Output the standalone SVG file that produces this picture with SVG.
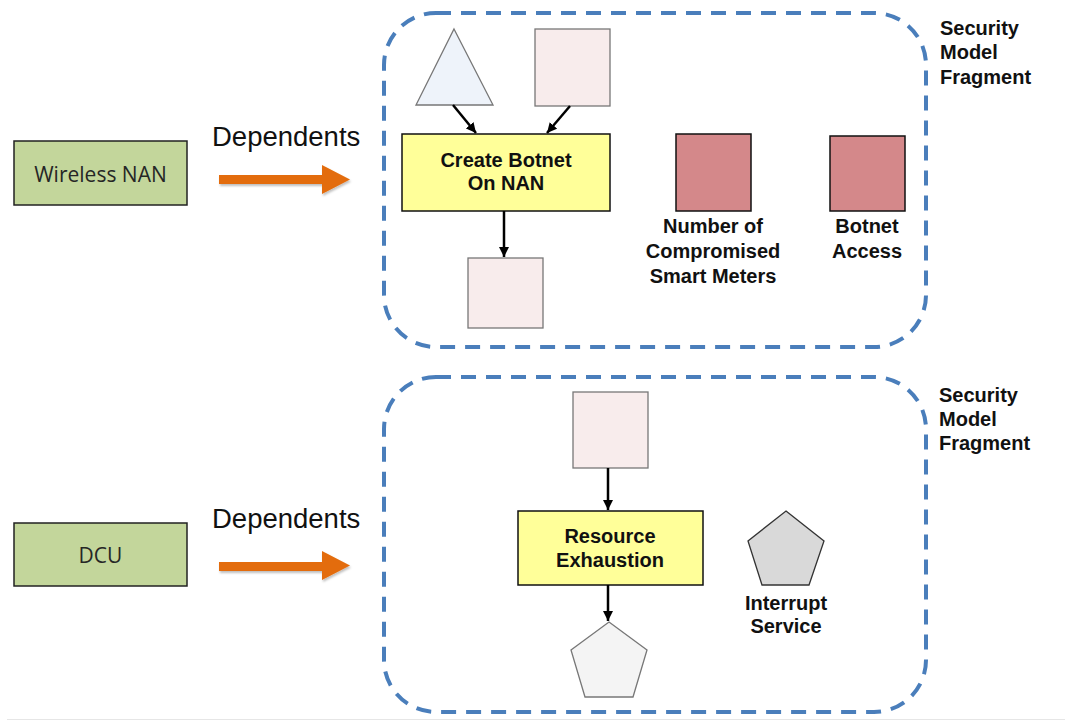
<svg xmlns="http://www.w3.org/2000/svg" width="1065" height="721" viewBox="0 0 1065 721">
  <defs>
    <marker id="arrow" viewBox="0 0 10 10" refX="10" refY="5" markerWidth="4" markerHeight="4" orient="auto" markerUnits="strokeWidth">
      <path d="M0,0 L10,5 L0,10 z" fill="#000"/>
    </marker>
    <filter id="soft" x="-10%" y="-30%" width="130%" height="170%">
      <feDropShadow dx="1" dy="2" stdDeviation="1.2" flood-color="#000" flood-opacity="0.25"/>
    </filter>
    <style>
      .frame { fill: none; stroke: #4a7ebb; stroke-width: 4; stroke-dasharray: 15 10; }
      .asset { fill: #c3d69b; stroke: #222; stroke-width: 1.5; }
      .asset-text { font-family: "Open Sans", "Liberation Sans", sans-serif; font-size: 21px; fill: #262626; text-anchor: middle; }
      .dep-text { font-family: "Liberation Sans", Arial, sans-serif; font-size: 27.5px; fill: #111; }
      .dep-arrow { fill: #e36c0a; filter: url(#soft); }
      .step { fill: #ffff99; stroke: #111; stroke-width: 1.5; }
      .pale { fill: #f8ecec; stroke: #777; stroke-width: 1.3; }
      .tri { fill: #eef3fa; stroke: #777; stroke-width: 1.3; }
      .red { fill: #d4888a; stroke: #111; stroke-width: 1.5; }
      .pent-light { fill: #f4f4f4; stroke: #777; stroke-width: 1.3; }
      .pent-grey { fill: #d9d9d9; stroke: #333; stroke-width: 1.3; }
      .lbl { font-family: "Liberation Sans", Arial, sans-serif; font-size: 20px; font-weight: bold; fill: #111; text-anchor: middle; }
      .frag { font-family: "Liberation Sans", Arial, sans-serif; font-size: 20px; font-weight: bold; fill: #111; }
      .link { stroke: #000; stroke-width: 2.5; fill: none; marker-end: url(#arrow); }
    </style>
  </defs>

  <rect width="1065" height="721" fill="#fff"/>
  <line x1="7" y1="719.5" x2="1065" y2="719.5" stroke="#e6e6e6" stroke-width="1"/>

  <!-- upper row: Wireless NAN -->
  <g id="wireless-nan">
    <rect class="asset" x="14" y="141" width="173" height="64"/>
    <text class="asset-text" x="100.5" y="182">Wireless NAN</text>
  </g>
  <g id="dependents-top">
    <text class="dep-text" x="212" y="146">Dependents</text>
    <path class="dep-arrow" d="M219,175 L322,175 L322,165 L350,179.5 L322,194 L322,184 L219,184 z"/>
  </g>

  <g id="fragment-top">
    <rect class="frame" x="384" y="13" width="542" height="334" rx="52" ry="52"/>
    <text class="frag"><tspan x="940" y="35">Security</tspan><tspan x="940" y="59">Model</tspan><tspan x="940" y="84">Fragment</tspan></text>
  </g>

  <g id="triangle-input">
    <polygon class="tri" points="454,29 493,105 416,105"/>
  </g>
  <g id="square-input">
    <rect class="pale" x="535" y="29" width="75" height="77"/>
  </g>
  <g id="create-botnet">
    <rect class="step" x="402" y="134" width="208" height="77"/>
    <text class="lbl"><tspan x="506" y="167">Create Botnet</tspan><tspan x="506" y="190">On NAN</tspan></text>
  </g>
  <g id="square-output">
    <rect class="pale" x="468" y="258" width="75" height="70"/>
  </g>
  <g id="compromised-meters">
    <rect class="red" x="676" y="134" width="75" height="77"/>
    <text class="lbl"><tspan x="713" y="233">Number of</tspan><tspan x="713" y="258">Compromised</tspan><tspan x="713" y="283">Smart Meters</tspan></text>
  </g>
  <g id="botnet-access">
    <rect class="red" x="830" y="136" width="75" height="75"/>
    <text class="lbl"><tspan x="867" y="233">Botnet</tspan><tspan x="867" y="258">Access</tspan></text>
  </g>

  <!-- lower row: DCU -->
  <g id="dcu">
    <rect class="asset" x="14" y="523" width="173" height="63"/>
    <text class="asset-text" x="100.5" y="563">DCU</text>
  </g>
  <g id="dependents-bottom">
    <text class="dep-text" x="212" y="528">Dependents</text>
    <path class="dep-arrow" d="M219,562 L322,562 L322,551 L350,565.5 L322,580 L322,571 L219,571 z"/>
  </g>

  <g id="fragment-bottom">
    <rect class="frame" x="384" y="377" width="542" height="335" rx="52" ry="52"/>
    <text class="frag"><tspan x="939" y="402">Security</tspan><tspan x="939" y="426">Model</tspan><tspan x="939" y="450">Fragment</tspan></text>
  </g>

  <g id="square-cause">
    <rect class="pale" x="573" y="392" width="75" height="76"/>
  </g>
  <g id="resource-exhaustion">
    <rect class="step" x="518" y="511" width="185" height="74"/>
    <text class="lbl"><tspan x="610" y="543">Resource</tspan><tspan x="610" y="567">Exhaustion</tspan></text>
  </g>
  <g id="pentagon-effect">
    <polygon class="pent-light" points="609,622 647,650 633,697 585,697 571,650"/>
  </g>
  <g id="interrupt-service">
    <polygon class="pent-grey" points="786,511 824,541 809,585 762,585 748,541"/>
    <text class="lbl"><tspan x="786" y="610">Interrupt</tspan><tspan x="786" y="633">Service</tspan></text>
  </g>

  <!-- connectors -->
  <g id="connectors">
    <line class="link" x1="453" y1="105" x2="476" y2="133"/>
    <line class="link" x1="570" y1="106" x2="547" y2="133"/>
    <line class="link" x1="504" y1="211" x2="504" y2="257"/>
    <line class="link" x1="608" y1="468" x2="608" y2="510"/>
    <line class="link" x1="608" y1="585" x2="608" y2="621"/>
  </g>
</svg>
